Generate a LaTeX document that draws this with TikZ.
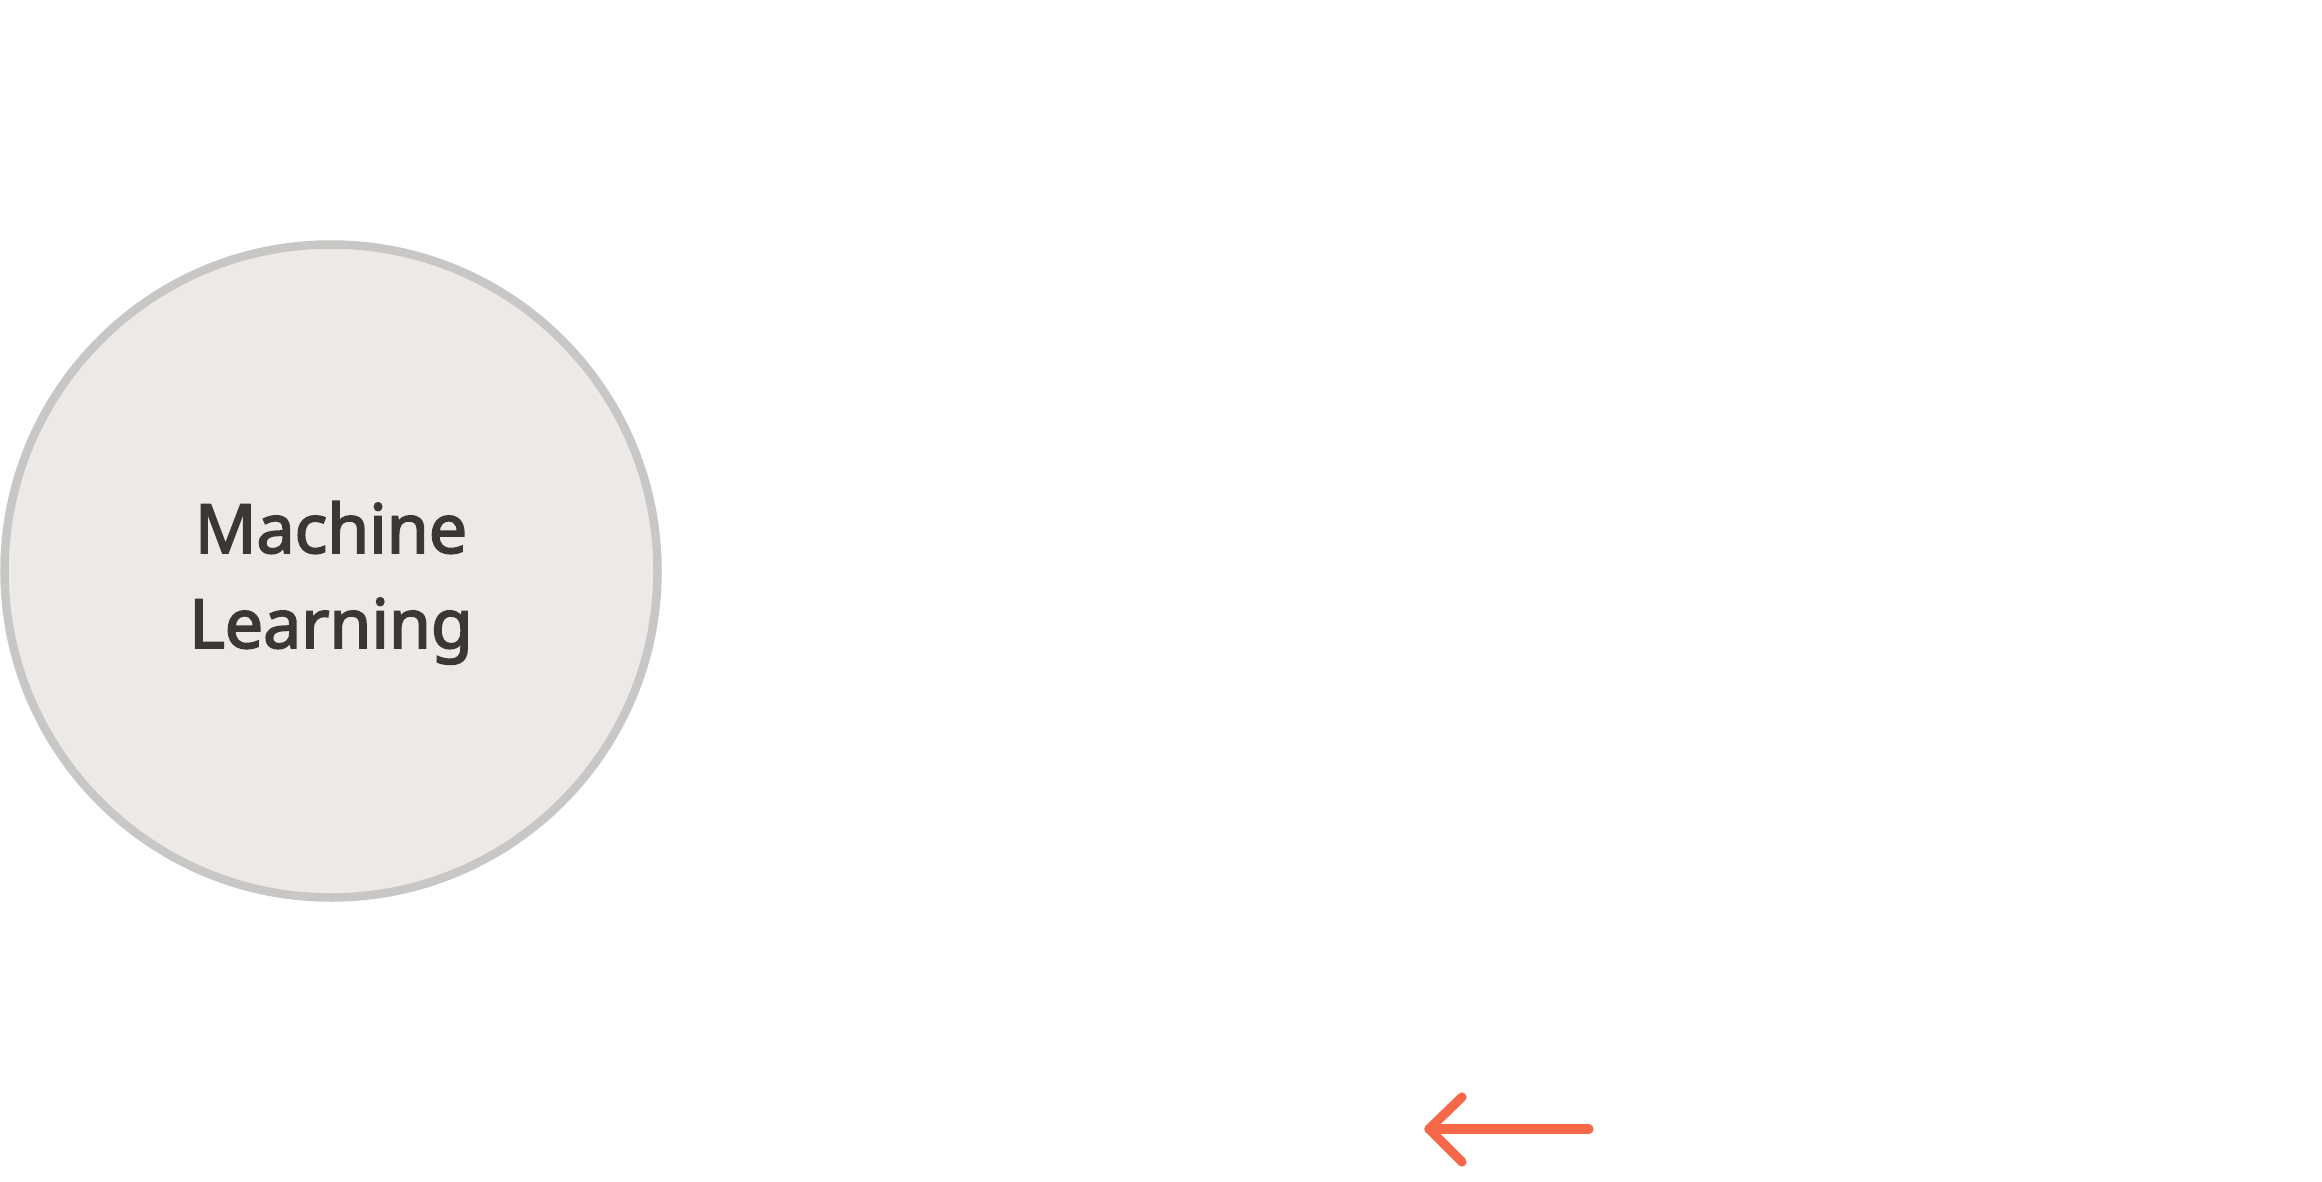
\documentclass[tikz,border=0pt]{standalone}
\usepackage{fontspec}
\setmainfont{Noto Sans}[FakeBold=2.6]
\definecolor{mlfill}{HTML}{EBEAE8}
\definecolor{mlline}{HTML}{C8C7C5}
\definecolor{mltext}{HTML}{3A3836}
\definecolor{arrowc}{HTML}{F76848}
\begin{document}
\begin{tikzpicture}[x=0.5pt,y=-0.5pt,
  topic/.style={circle,draw=mlline,fill=mlfill,line width=4.25pt,minimum size=653*0.5pt,inner sep=0pt},
  topictext/.style={text=mltext,align=center,inner sep=0pt,anchor=base,
    font=\fontsize{34pt}{47.5pt}\selectfont},
  arrowline/.style={draw=arrowc,line width=4.6pt,line cap=round,line join=round}]
\useasboundingbox (0,0) rectangle (2322,1182);
\node[topic] (ml) at (331,571) {};
\node[topictext] (mltxt) at (331,648) {Machine\\Learning};
\coordinate (aS) at (1589,1129);
\coordinate (aT) at (1429,1129);
\coordinate (h1) at (1462,1097);
\coordinate (h2) at (1462,1162);
\draw[arrowline] (aS) -- (aT);
\draw[arrowline] (h1) -- (aT) -- (h2);
\end{tikzpicture}
\end{document}
